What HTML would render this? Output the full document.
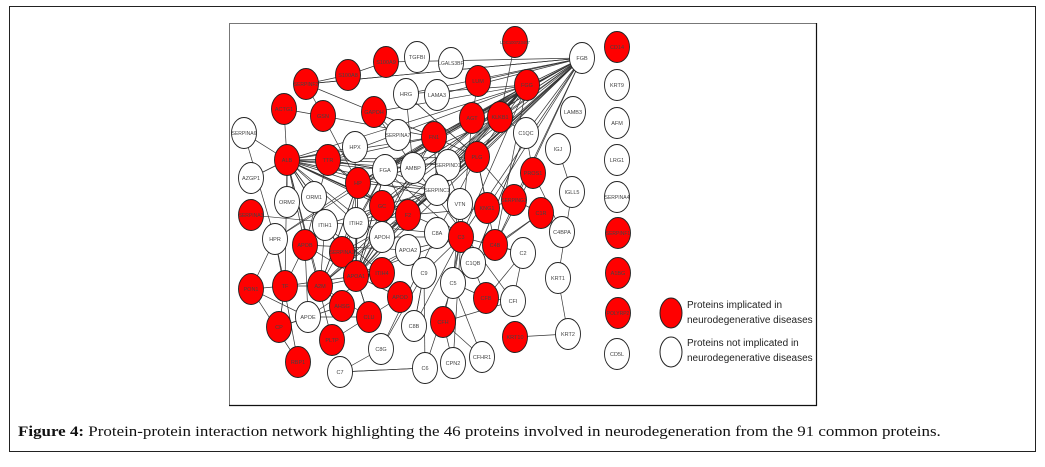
<!DOCTYPE html>
<html><head><meta charset="utf-8">
<style>
html,body{margin:0;padding:0;background:#fff;}
body{width:1045px;height:467px;position:relative;overflow:hidden;font-family:"Liberation Sans",sans-serif;}
#outer{position:absolute;left:9px;top:6px;width:1027px;height:446px;border:1px solid #222;box-sizing:border-box;}
#caption{position:absolute;left:18px;top:424px;font-family:"Liberation Serif",serif;font-size:15px;color:#111;white-space:nowrap;transform:scaleX(1.13);transform-origin:0 0;}
svg{position:absolute;left:0;top:0;}
</style></head>
<body>
<div id="outer"></div>
<svg id="net" width="1045" height="467">
  <rect x="229.5" y="23.5" width="587" height="382" fill="#fff" stroke="#777" stroke-width="1"/>
  <line x1="816.5" y1="23" x2="816.5" y2="406" stroke="#111" stroke-width="1.2"/>
  <line x1="229" y1="405.5" x2="817" y2="405.5" stroke="#111" stroke-width="1.2"/>
  <g id="edges"></g>
  <g id="nodes"></g>
  <g>
    <ellipse cx="671" cy="313" rx="11" ry="15" fill="#ff0000" stroke="#222"/>
    <ellipse cx="671" cy="352" rx="11" ry="15" fill="#fff" stroke="#222"/>
    <text x="687" y="308" font-size="10" fill="#222">Proteins implicated in</text>
    <text x="687" y="323" font-size="10" fill="#222">neurodegenerative diseases</text>
    <text x="687" y="346" font-size="10" fill="#222">Proteins not implicated in</text>
    <text x="687" y="361" font-size="10" fill="#222">neurodegenerative diseases</text>
  </g>
</svg>
<div id="caption"><b>Figure 4:</b> Protein-protein interaction network highlighting the 46 proteins involved in neurodegeneration from the 91 common proteins.</div>
<script>
const nodeNames=["LOC100723407","FGB","CD14","TGFBI","LGALS3BP","S100A9","S100A8","SERPINF2","LUM","FGG","HRG","LAMA3","KRT9","ACTG1","GSN","GAPDH","AGT","KLKB1","LAMB3","AFM","SERPINA6","SERPINA7","FN1","HPX","C1QC","IGJ","LRG1","ALB","TTR","PLG","FGA","AMBP","SERPIND1","AZGP1","HP","PROS1","IGLL5","SERPINA4","SERPINC1","ORM2","ORM1","GC","VTN","KNG1","SERPING1","SERPINA3","ITIH1","ITIH2","F2","C1R","SERPINF1","HPR","APOB","SERPINA1","APOH","APOA2","C8A","C3","C4B","C4BPA","C2","C1QB","APOA1","ITIH4","C9","C5","KRT1","A1BG","PON1","TF","A2M","APOD","CFB","CFI","POLYRP2","CP","APOE","AHSG","CLU","C8B","CFH","KRT10","KRT2","CD5L","PLTP","RBP1","C8G","C6","CFHR1","CPN2","C7"];
const nodeX=[515,582,617,417,451,386,348,306,478,527,406,437,617,284,323,374,472,500,573,617,244,398,434,355,526,558,617,287,328,477,385,413,448,251,358,533,572,617,437,287,314,382,460,487,514,251,325,356,408,541,618,275,305,342,382,408,437,461,495,562,523,473,356,382,424,453,558,618,251,285,320,400,486,513,618,279,308,342,369,414,443,515,568,617,332,298,381,425,482,453,340];
const nodeY=[42,58,47,57,63,62,75,84,81,85,94,95,85,109,116,112,118,117,112,123,133,135,137,147,133,149,160,160,160,157,170,168,165,178,183,173,192,197,190,202,197,206,204,208,200,215,225,223,215,213,233,239,245,252,237,250,233,237,245,232,253,263,276,273,273,283,278,273,289,286,286,297,298,301,313,327,317,306,317,326,322,337,334,354,340,362,349,368,357,363,372];
const nodeImplicated=[1,0,1,0,0,1,1,1,1,1,0,0,0,1,1,1,1,1,0,0,0,0,1,0,0,0,0,1,1,1,0,0,0,0,1,1,0,0,0,0,0,1,0,1,1,1,0,0,1,1,1,0,1,1,0,0,0,1,1,0,0,0,1,1,0,0,0,1,1,1,1,1,1,0,1,1,0,1,1,0,1,1,0,0,1,1,0,0,0,0,0];
const edgeFrom=["ALB","ALB","ALB","ALB","ALB","ALB","ALB","ALB","ALB","ALB","ALB","ALB","ALB","ALB","ALB","FGB","FGB","FGB","FGB","FGB","FGB","FGB","FGB","FGB","FGB","FGB","FGB","FGB","FGB","FGB","FGB","FGG","FGG","FGG","FGG","FGG","FGG","FGG","FGG","FGG","FGG","FGG","FGG","FGA","FGA","FGA","FGA","FGA","FGA","FGA","FGA","FGA","FN1","FN1","FN1","FN1","FN1","FN1","FN1","PLG","PLG","PLG","PLG","PLG","PLG","C3","C3","C3","C3","C3","C3","C3","C3","APOA1","APOA1","APOA1","APOA1","APOA1","APOA1","APOA1","TF","TF","TF","TF","PON1","PON1","PON1","PON1","A2M","A2M","A2M","A2M","CP","CP","APOE","APOE","C7","C7","C6","C6","C8G","C8B","CFH","CFH","CFH","CFB","CFB","C1QB","C1QB","C1R","C2","C4B","C4B","KRT10","KRT1","SERPINF2","SERPINF2","SERPINF2","S100A8","GSN","GSN","GAPDH","GAPDH","HRG","HRG","HPX","HPX","TTR","TTR","TTR","AGT","KLKB1","KLKB1","C1QC","C1QC","IGJ","IGLL5","PROS1","PROS1","KNG1","KNG1","SERPING1","VTN","VTN","F2","F2","GC","GC","HP","HP","ITIH1","ITIH2","ITIH4","APOB","APOB","SERPINA1","SERPINA1","APOH","APOA2","APOD","CLU","CLU","AHSG","PLTP","RBP1","HPR","ORM2","ORM1","AZGP1","SERPINA6","SERPINA3","C9","C5","C5","C8A","CFHR1","CPN2","CFI","FGB","FGB","FGB","FGB","FGB","FGB","FGB","FGB","FGB","FGB","FGG","FGG","FGG","FGG","FGG","FGG","FGG","FGG","ALB","ALB","ALB","ALB","ALB","ALB","APOA1","APOA1","APOA1","APOA1","APOA1","HP","HP","HP","HP","F2","F2","F2","GC","GC","SERPINA1","SERPINA1","ITIH2","ITIH2","APOH","APOH","A2M","A2M","TTR","TTR","FN1","FN1","PLG","PLG","KLKB1","AGT","C3","C3","C9","C8A","C6","C7"];
const edgeTo=["ACTG1","AZGP1","SERPINA6","TTR","HP","GC","APOB","TF","A2M","APOA1","SERPINA1","ORM2","ORM1","FN1","PLG","FGG","S100A9","SERPINF2","FN1","PLG","KLKB1","AGT","C3","HP","FGA","APOA1","SERPINC1","F2","KNG1","LUM","C1QC","FGA","FN1","PLG","GAPDH","HRG","KLKB1","F2","SERPINC1","C3","APOA1","ALB","HP","FN1","PLG","F2","SERPINC1","ALB","A2M","APOA1","TTR","C3","PLG","SERPINF2","GSN","TTR","C3","VTN","APOA1","F2","KNG1","SERPING1","A2M","HRG","C4B","C5","C3","C9","C8A","CFB","CFH","APOA1","C2","APOA2","APOB","TF","HP","CLU","ITIH4","APOD","A2M","HPR","APOB","CP","TF","APOE","RBP1","HPR","HP","AHSG","CLU","ITIH1","APOE","TF","APOB","CLU","C6","C8G","C5","C7","C9","C9","CFI","CFHR1","CPN2","CFI","C2","C1R","C1QC","C4BPA","CFI","C2","C1R","KRT2","KRT2","S100A8","GSN","FGB","S100A9","ACTG1","HP","FN1","SERPINA7","PLG","AMBP","ALB","APOA1","GC","HP","APOB","LUM","C1QC","LOC100723407","C1QB","PROS1","IGLL5","KRT1","C4BPA","C4B","F2","SERPING1","C1R","ALB","C5","ALB","SERPINC1","ITIH1","APOA1","APOA1","HPR","ITIH4","APOA1","APOA1","APOB","APOA2","ALB","F2","APOA1","APOE","PLTP","APOA1","APOA1","CP","ALB","HPR","FGA","ALB","ALB","ALB","HPR","C8A","C6","CFB","C1QB","C3","C5","C3","GAPDH","HRG","LAMA3","SERPIND1","AMBP","GC","A2M","APOH","C4B","SERPING1","AMBP","SERPIND1","GC","APOH","A2M","C4B","TTR","ITIH2","FGA","AMBP","F2","ITIH2","APOH","C3","SERPINC1","FGA","AMBP","F2","ITIH2","FGA","AMBP","SERPINC1","FN1","AMBP","SERPINC1","APOH","ITIH2","SERPINC1","ITIH2","FGA","HP","GC","SERPINC1","C3","APOA1","ITIH4","HP","FGA","SERPIND1","AMBP","SERPINC1","C8A","SERPIND1","FGA","C3","APOA2","C8B","C8B","C8G","C6"];
const svgNS="http://www.w3.org/2000/svg";
const eg=document.getElementById('edges');
const ng=document.getElementById('nodes');
function idx(n){return nodeNames.indexOf(n);}
for(let i=0;i<edgeFrom.length;i++){
  const a=idx(edgeFrom[i]),b=idx(edgeTo[i]);
  if(a<0||b<0)continue;
  const l=document.createElementNS(svgNS,'line');
  l.setAttribute('x1',nodeX[a]);l.setAttribute('y1',nodeY[a]);
  l.setAttribute('x2',nodeX[b]);l.setAttribute('y2',nodeY[b]);
  l.setAttribute('stroke','#333');l.setAttribute('stroke-width','0.7');
  
  
  eg.appendChild(l);
}
for(let i=0;i<nodeNames.length;i++){
  const g=document.createElementNS(svgNS,'g');
  
  
  const e=document.createElementNS(svgNS,'ellipse');
  e.setAttribute('cx',nodeX[i]);e.setAttribute('cy',nodeY[i]);
  e.setAttribute('rx',12.5);e.setAttribute('ry',15.5);
  e.setAttribute('fill',nodeImplicated[i]?'#ff0000':'#fff');
  e.setAttribute('stroke','#222');e.setAttribute('stroke-width','0.9');
  g.appendChild(e);
  const t=document.createElementNS(svgNS,'text');
  t.setAttribute('x',nodeX[i]);t.setAttribute('y',nodeY[i]+2);
  t.setAttribute('text-anchor','middle');
  const n=nodeNames[i];
  t.setAttribute('font-size',n.length>9?4.2:(n.length>6?5:5.5));
  t.setAttribute('fill','#444');
  t.textContent=n;
  g.appendChild(t);
  ng.appendChild(g);
}
</script>
</body></html>
